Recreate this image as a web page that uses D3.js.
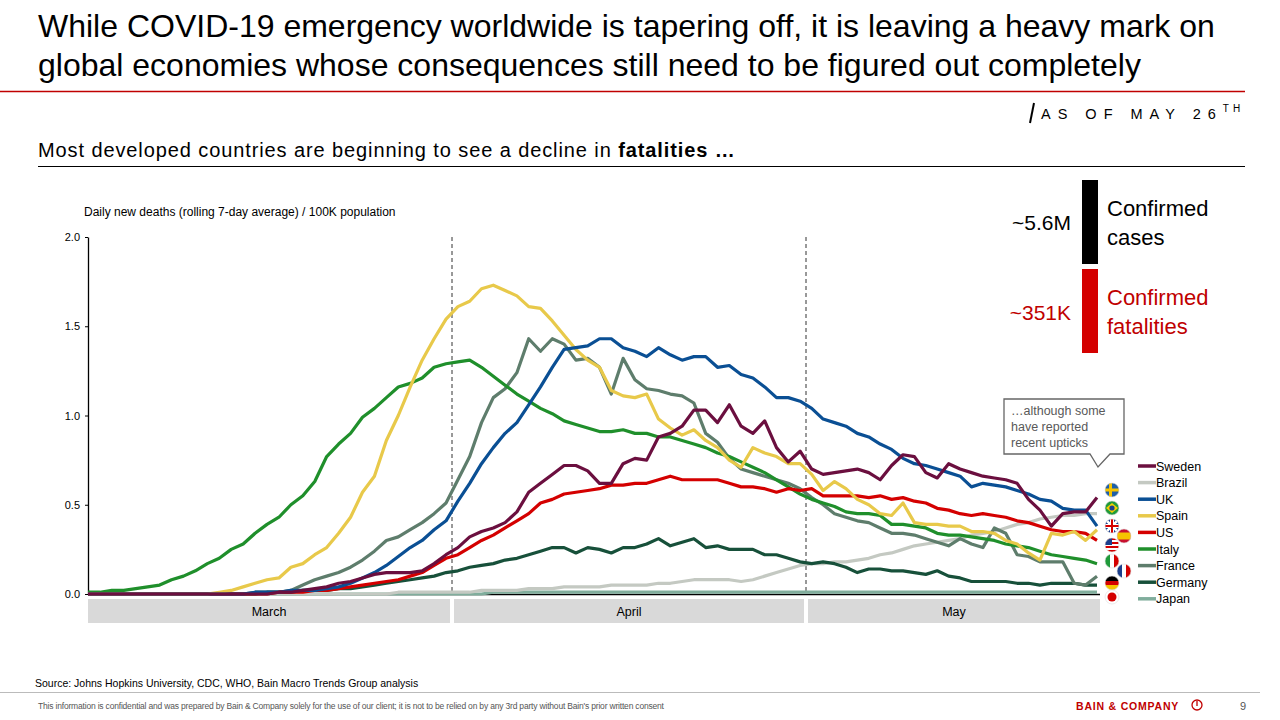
<!DOCTYPE html>
<html><head><meta charset="utf-8">
<script src="https://cdn.jsdelivr.net/npm/d3@7"></script>
<style>body{margin:0;background:#fff}svg{font-family:Arial,"Liberation Sans",sans-serif}</style>
</head><body>
<svg id="c" width="1280" height="720"></svg>
<script>
const months = ["March","April","May"];
const monthDays = [31,30,26];
const yTicks = [0,0.5,1.0,1.5,2.0];
const countries = ["Sweden","Brazil","UK","Spain","US","Italy","France","Germany","Japan"];
const colors = ["#6b0f3f","#c4c9c2","#0a4f94","#e8c94a","#d40000","#1f8f2b","#5e7d6c","#17503a","#80ad9c"];
const sweden = [0,0,0,0,0,0,0,0,0,0, 0,0,0,0,0,0,0.01,0.01,0.02,0.03, 0.04,0.06,0.07,0.09,0.11,0.12,0.12,0.12,0.13,0.17, 0.22,0.26,0.32,0.35,0.37,0.40,0.46,0.57,0.62,0.67, 0.72,0.72,0.69,0.62,0.62,0.73,0.76,0.75,0.88,0.90, 0.94,1.03,1.03,0.96,1.06,0.94,0.90,0.97,0.82,0.74, 0.80,0.70,0.67,0.68,0.69,0.70,0.68,0.64,0.72,0.78, 0.77,0.68,0.65,0.73,0.70,0.68,0.66,0.65,0.64,0.62, 0.53,0.47,0.38,0.45,0.46,0.46,0.54];
const brazil = [0,0,0,0,0,0,0,0,0,0, 0,0,0,0,0,0,0,0,0,0, 0,0,0,0,0,0,0.01,0.01,0.01,0.01, 0.01,0.01,0.01,0.02,0.02,0.02,0.02,0.03,0.03,0.03, 0.04,0.04,0.04,0.04,0.05,0.05,0.05,0.05,0.06,0.06, 0.07,0.08,0.08,0.08,0.08,0.07,0.08,0.10,0.12,0.14, 0.16,0.17,0.17,0.18,0.18,0.19,0.20,0.22,0.23,0.25, 0.27,0.28,0.29,0.30,0.31,0.33,0.34,0.35,0.37,0.39, 0.40,0.42,0.43,0.44,0.44,0.45,0.45];
const uk = [0,0,0,0,0,0,0,0,0,0, 0,0,0,0,0.01,0.01,0.01,0.02,0.02,0.02, 0.03,0.04,0.06,0.09,0.12,0.16,0.21,0.26,0.30,0.36, 0.41,0.52,0.62,0.73,0.82,0.90,0.96,1.06,1.16,1.27, 1.37,1.38,1.39,1.43,1.43,1.38,1.36,1.33,1.38,1.34, 1.31,1.33,1.33,1.27,1.28,1.23,1.21,1.16,1.10,1.10, 1.08,1.04,0.98,0.96,0.94,0.90,0.88,0.84,0.81,0.76, 0.73,0.72,0.70,0.68,0.66,0.60,0.62,0.61,0.60,0.58, 0.56,0.53,0.52,0.48,0.47,0.47,0.38];
const spain = [0,0,0,0,0,0,0,0,0,0, 0,0.01,0.02,0.04,0.06,0.08,0.09,0.15,0.17,0.22, 0.26,0.34,0.43,0.57,0.66,0.86,1.00,1.16,1.31,1.43, 1.54,1.61,1.64,1.71,1.73,1.70,1.67,1.61,1.60,1.53, 1.45,1.37,1.31,1.27,1.14,1.11,1.10,1.12,0.98,0.93, 0.89,0.92,0.86,0.82,0.75,0.71,0.82,0.79,0.77,0.73, 0.73,0.67,0.58,0.63,0.59,0.53,0.50,0.45,0.44,0.51, 0.40,0.39,0.39,0.38,0.38,0.35,0.35,0.34,0.30,0.28, 0.23,0.19,0.34,0.33,0.35,0.30,0.36];
const us = [0,0,0,0,0,0,0,0,0,0, 0,0,0,0,0,0,0.01,0.01,0.01,0.02, 0.02,0.03,0.04,0.05,0.06,0.07,0.08,0.10,0.12,0.16, 0.20,0.22,0.26,0.30,0.33,0.37,0.41,0.45,0.51,0.53, 0.56,0.57,0.58,0.59,0.61,0.61,0.62,0.62,0.64,0.66, 0.64,0.64,0.64,0.64,0.62,0.60,0.60,0.59,0.57,0.59, 0.58,0.59,0.55,0.55,0.55,0.55,0.54,0.55,0.53,0.54, 0.52,0.51,0.48,0.47,0.45,0.44,0.45,0.44,0.43,0.41, 0.40,0.38,0.36,0.35,0.35,0.34,0.30];
const italy = [0.01,0.01,0.02,0.02,0.03,0.04,0.05,0.08,0.10,0.13, 0.17,0.20,0.25,0.28,0.34,0.39,0.43,0.50,0.55,0.63, 0.77,0.84,0.90,0.99,1.04,1.10,1.16,1.18,1.21,1.27, 1.29,1.30,1.31,1.27,1.22,1.17,1.12,1.08,1.04,1.01, 0.97,0.95,0.93,0.91,0.91,0.92,0.90,0.90,0.88,0.88, 0.86,0.84,0.82,0.79,0.77,0.74,0.71,0.68,0.64,0.60, 0.56,0.53,0.51,0.49,0.46,0.45,0.45,0.44,0.39,0.39, 0.38,0.37,0.34,0.33,0.33,0.32,0.31,0.30,0.28,0.27, 0.26,0.24,0.22,0.21,0.20,0.19,0.17];
const france = [0,0,0,0,0,0,0,0,0,0, 0,0,0,0,0.01,0.01,0.01,0.02,0.05,0.08, 0.10,0.12,0.15,0.19,0.24,0.30,0.32,0.36,0.40,0.45, 0.51,0.64,0.77,0.96,1.10,1.15,1.24,1.43,1.36,1.43, 1.40,1.31,1.32,1.27,1.12,1.32,1.20,1.15,1.14,1.12, 1.11,1.07,0.90,0.85,0.76,0.70,0.68,0.66,0.64,0.62, 0.59,0.54,0.50,0.45,0.43,0.41,0.40,0.37,0.34,0.34, 0.33,0.31,0.29,0.27,0.31,0.28,0.26,0.37,0.34,0.22, 0.21,0.18,0.18,0.18,0.06,0.05,0.10];
const germany = [0,0,0,0,0,0,0,0,0,0, 0,0,0,0,0,0.01,0.01,0.01,0.02,0.02, 0.02,0.03,0.03,0.04,0.05,0.06,0.07,0.08,0.09,0.10, 0.12,0.13,0.15,0.16,0.17,0.19,0.20,0.22,0.24,0.26, 0.26,0.23,0.26,0.25,0.23,0.26,0.26,0.28,0.31,0.27, 0.29,0.31,0.26,0.27,0.25,0.25,0.25,0.22,0.22,0.20, 0.18,0.17,0.18,0.17,0.15,0.12,0.14,0.14,0.13,0.13, 0.12,0.11,0.13,0.10,0.09,0.07,0.07,0.07,0.07,0.06, 0.06,0.05,0.06,0.06,0.06,0.05,0.05];
const japan = [0,0,0,0,0,0,0,0,0,0, 0,0,0,0,0,0,0,0,0,0, 0,0,0,0,0,0,0,0,0,0, 0,0,0,0,0.01,0.01,0.01,0.01,0.01,0.01, 0.01,0.01,0.01,0.01,0.01,0.01,0.01,0.01,0.01,0.01, 0.01,0.01,0.01,0.01,0.01,0.01,0.01,0.01,0.01,0.01, 0.01,0.01,0.01,0.01,0.01,0.01,0.01,0.01,0.01,0.01, 0.01,0.01,0.01,0.01,0.01,0.01,0.01,0.01,0.01,0.01, 0.01,0.01,0.01,0.01,0.01,0.01,0.01];
const seriesValues = [sweden,brazil,uk,spain,us,italy,france,germany,japan];

const svg = d3.select("#c");
const red = "#c00000";
// Header
svg.append("text").attr("x",38).attr("y",37).attr("font-size",32).attr("fill","#000")
  .text("While COVID-19 emergency worldwide is tapering off, it is leaving a heavy mark on");
svg.append("text").attr("x",38).attr("y",76).attr("font-size",32).attr("fill","#000")
  .text("global economies whose consequences still need to be figured out completely");
svg.append("line").attr("x1",0).attr("x2",1245).attr("y1",91.5).attr("y2",91.5).attr("stroke",red).attr("stroke-width",1.5);
svg.append("line").attr("x1",1034).attr("x2",1030).attr("y1",103).attr("y2",123).attr("stroke","#000").attr("stroke-width",2);
const asof = svg.append("text").attr("x",1041).attr("y",119).attr("font-size",14.5).attr("letter-spacing",7).attr("fill","#000");
asof.append("tspan").text("AS OF MAY 26");
asof.append("tspan").attr("font-size",10).attr("dy",-7).attr("letter-spacing",4).text("TH");
const sub = svg.append("text").attr("x",38).attr("y",157).attr("font-size",20).attr("fill","#000").attr("letter-spacing",0.9);
sub.append("tspan").text("Most developed countries are beginning to see a decline in ");
sub.append("tspan").attr("font-weight","bold").text("fatalities …");
svg.append("line").attr("x1",38).attr("x2",1245).attr("y1",166.5).attr("y2",166.5).attr("stroke","#000").attr("stroke-width",1);

// Chart
const x = d3.scaleLinear().domain([0,30.5,60.5,86]).range([88,452,806,1097]);
const y = d3.scaleLinear().domain([0,2]).range([594,237]);
svg.append("text").attr("x",84).attr("y",216).attr("font-size",12).text("Daily new deaths (rolling 7-day average) / 100K population");
const ya = svg.append("g").attr("transform","translate(88,0)")
  .call(d3.axisLeft(y).tickValues(yTicks).tickFormat(d3.format(".1f")).tickSize(3).tickSizeOuter(0));
ya.selectAll("text").attr("font-size",11).attr("font-family","Arial,'Liberation Sans',sans-serif").attr("x",-8);
ya.select(".domain").attr("stroke-width",1.3);
svg.append("line").attr("x1",88).attr("x2",1100).attr("y1",594.5).attr("y2",594.5).attr("stroke","#000").attr("stroke-width",1.3);
let start=0; const bounds=[];
months.forEach((m,i)=>{
  const a = start - 0.5, b = start + monthDays[i] - 0.5;
  const x0 = i===0 ? 88 : x(a)+2, x1 = i===2 ? 1100 : x(b)-2;
  svg.append("rect").attr("x",x0).attr("y",599).attr("width",x1-x0).attr("height",24).attr("fill","#d9d9d9");
  svg.append("text").attr("x",(x0+x1)/2).attr("y",616).attr("text-anchor","middle").attr("font-size",12.5).text(m);
  if(i<2) bounds.push(b);
  start += monthDays[i];
});
bounds.forEach(b=>svg.append("line").attr("x1",x(b)).attr("x2",x(b)).attr("y1",237).attr("y2",594)
  .attr("stroke","#333").attr("stroke-dasharray","4,3").attr("stroke-width",1));
const line = d3.line().x((d,i)=>x(i)).y(d=>y(d));
const order = [8,1,7,6,5,4,3,2,0];
order.forEach(k=>{
  svg.append("path").datum(seriesValues[k]).attr("d",line).attr("fill","none")
    .attr("stroke",colors[k]).attr("stroke-width",3.2).attr("stroke-linejoin","round");
});

countries.forEach((c,i)=>{
  const yy = 466 + i*16.6;
  svg.append("line").attr("x1",1138).attr("x2",1156).attr("y1",yy).attr("y2",yy).attr("stroke",colors[i]).attr("stroke-width",3.5);
  svg.append("text").attr("x",1156).attr("y",yy+4.5).attr("font-size",12.5).text(c);
});

const defs = svg.append("defs");
const flags = [
 {id:"se",cx:1112,cy:490},{id:"br",cx:1112,cy:508},{id:"gb",cx:1112,cy:526},{id:"us",cx:1112,cy:545},
 {id:"es",cx:1124,cy:536},{id:"it",cx:1112,cy:561},{id:"fr",cx:1124,cy:571},{id:"de",cx:1112,cy:583},{id:"jp",cx:1112,cy:597}];
flags.forEach(f=>{
  defs.append("clipPath").attr("id","cp"+f.id).append("circle").attr("cx",f.cx).attr("cy",f.cy).attr("r",7);
  const g = svg.append("g").attr("clip-path","url(#cp"+f.id+")");
  const L=f.cx-7,T=f.cy-7;
  const r=(xx,yy,w,h,c)=>g.append("rect").attr("x",xx).attr("y",yy).attr("width",w).attr("height",h).attr("fill",c);
  if(f.id==="se"){r(L,T,14,14,"#1f5fa8");r(L+4,T,3,14,"#f5c400");r(L,T+5.5,14,3,"#f5c400");}
  if(f.id==="br"){r(L,T,14,14,"#1f9a3b");g.append("path").attr("d",`M${f.cx-6},${f.cy}L${f.cx},${f.cy-5}L${f.cx+6},${f.cy}L${f.cx},${f.cy+5}Z`).attr("fill","#f5d000");g.append("circle").attr("cx",f.cx).attr("cy",f.cy).attr("r",2.6).attr("fill","#1c3f8c");}
  if(f.id==="gb"){r(L,T,14,14,"#1c3f8c");g.append("path").attr("d",`M${L},${T}L${L+14},${T+14}M${L+14},${T}L${L},${T+14}`).attr("stroke","#fff").attr("stroke-width",2.5);r(L+5,T,4,14,"#fff");r(L,T+5,14,4,"#fff");r(L+6,T,2,14,"#d40000");r(L,T+6,14,2,"#d40000");}
  if(f.id==="us"){for(let k=0;k<7;k++)r(L,T+k*2,14,2,k%2?"#fff":"#d40000");r(L,T,7,7,"#1c3f8c");}
  if(f.id==="es"){r(L,T,14,14,"#c8102e");r(L,T+3.5,14,7,"#f5c400");}
  if(f.id==="it"){r(L,T,5,14,"#1f9a3b");r(L+5,T,4,14,"#fff");r(L+9,T,5,14,"#d40000");}
  if(f.id==="fr"){r(L,T,5,14,"#1c3f8c");r(L+5,T,4,14,"#fff");r(L+9,T,5,14,"#d40000");}
  if(f.id==="de"){r(L,T,14,5,"#000");r(L,T+5,14,4,"#d40000");r(L,T+9,14,5,"#f5c400");}
  if(f.id==="jp"){r(L,T,14,14,"#fff");g.append("circle").attr("cx",f.cx).attr("cy",f.cy).attr("r",4.5).attr("fill","#d40000");}
  svg.append("circle").attr("cx",f.cx).attr("cy",f.cy).attr("r",7).attr("fill","none").attr("stroke","#ddd").attr("stroke-width",0.6);
});

svg.append("path").attr("d","M1004,399H1124V454H1110L1098,467L1090,454H1004Z").attr("fill","#fff").attr("stroke","#666").attr("stroke-width",1.3);
["…although some","have reported","recent upticks"].forEach((t,i)=>
  svg.append("text").attr("x",1011).attr("y",415+i*16).attr("font-size",12.5).attr("fill","#595959").text(t));

svg.append("rect").attr("x",1082).attr("y",180).attr("width",16).attr("height",84).attr("fill","#000");
svg.append("rect").attr("x",1082).attr("y",269).attr("width",16).attr("height",84).attr("fill","#d40000");
svg.append("text").attr("x",1071).attr("y",230).attr("text-anchor","end").attr("font-size",21).text("~5.6M");
svg.append("text").attr("x",1071).attr("y",320).attr("text-anchor","end").attr("font-size",21).attr("fill","#c00000").text("~351K");
svg.append("text").attr("x",1107).attr("y",216).attr("font-size",22).text("Confirmed");
svg.append("text").attr("x",1107).attr("y",245).attr("font-size",22).text("cases");
svg.append("text").attr("x",1107).attr("y",305).attr("font-size",22).attr("fill","#c00000").text("Confirmed");
svg.append("text").attr("x",1107).attr("y",334).attr("font-size",22).attr("fill","#c00000").text("fatalities");

svg.append("text").attr("x",35).attr("y",687).attr("font-size",10.5).text("Source: Johns Hopkins University, CDC, WHO, Bain Macro Trends Group analysis");
svg.append("line").attr("x1",0).attr("x2",1260).attr("y1",692.5).attr("y2",692.5).attr("stroke","#bbb");
svg.append("text").attr("x",38).attr("y",709).attr("font-size",8.5).attr("fill","#555").attr("textLength",626)
  .text("This information is confidential and was prepared by Bain & Company solely for the use of our client; it is not to be relied on by any 3rd party without Bain's prior written consent");
svg.append("text").attr("x",1076).attr("y",710).attr("font-size",10.5).attr("font-weight","bold").attr("fill","#c00000").attr("letter-spacing",0.8).text("BAIN & COMPANY");
svg.append("circle").attr("cx",1197).attr("cy",705).attr("r",5).attr("fill","none").attr("stroke","#c00000").attr("stroke-width",1.3);
svg.append("line").attr("x1",1197).attr("x2",1197).attr("y1",701).attr("y2",706).attr("stroke","#c00000").attr("stroke-width",1.3);
svg.append("text").attr("x",1240).attr("y",710).attr("font-size",11).attr("fill","#555").text("9");
</script>
</body></html>
